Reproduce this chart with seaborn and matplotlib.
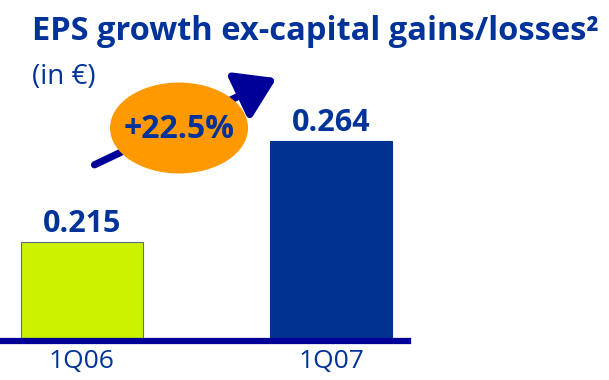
import matplotlib
matplotlib.use("Agg")
import matplotlib.pyplot as plt
from matplotlib.patches import Ellipse, FancyArrowPatch
import seaborn as sns
import pandas as pd

quarters = ["1Q06", "1Q07"]
eps = [0.215, 0.264]
bar_colors = ["#ccf200", "#003391"]
growth_label = "+22.5%"
title = "EPS growth ex-capital gains/losses²"
subtitle = "(in €)"

NAVY = "#003399"
DARK = "#000099"

sns.set_theme(style="white")
plt.rcParams["font.family"] = ["Open Sans", "DejaVu Sans"]

W, H = 609, 380
fig = plt.figure(figsize=(W / 100, H / 100), dpi=100)
ax = fig.add_axes([3 / W, (H - 341) / H, 405 / W, 341 / H])

df = pd.DataFrame({"quarter": quarters, "eps": eps})
sns.barplot(data=df, x="quarter", y="eps", hue="quarter", palette=bar_colors,
            width=0.49, legend=False, ax=ax, saturation=1)
for patch, col in zip(ax.patches, bar_colors):
    patch.set_edgecolor("#5a6e8c" if col == bar_colors[0] else col)
    patch.set_linewidth(0.8)

ax.set_ylim(0.167, 0.3325)
ax.set_xlim(-0.317, 1.309)
ax.set_xlabel("")
ax.set_ylabel("")
ax.set_yticks([])
for s in ["top", "left", "right"]:
    ax.spines[s].set_visible(False)
ax.spines["bottom"].set_color(DARK)
ax.spines["bottom"].set_linewidth(4.5)
ax.tick_params(axis="x", length=0, pad=6, labelsize=19, labelcolor=NAVY)

for i, v in enumerate(eps):
    ax.annotate(f"{v:.3f}", (i, v), xytext=(0, 2), textcoords="offset points",
                ha="center", va="bottom", fontsize=22, fontweight="bold",
                color=NAVY)

# growth arrow and badge, placed in pixel coordinates of the figure
def px(x, y):
    return (x / W, 1 - y / H)

arrow = FancyArrowPatch(px(92, 166), px(279, 77), transform=fig.transFigure,
                        arrowstyle="-|>,head_length=14,head_width=9",
                        mutation_scale=1.7, color=DARK, linewidth=5.2)
fig.add_artist(arrow)
ell = Ellipse(px(179, 128), 138 / W, 91 / H, transform=fig.transFigure,
              facecolor="#ff9900", edgecolor="none")
fig.add_artist(ell)
fig.text(*px(179, 129), growth_label, ha="center", va="center", fontsize=23,
         fontweight="bold", color=NAVY)

fig.text(*px(32, 40), title, ha="left", va="baseline", fontsize=23.5,
         fontweight="bold", color=NAVY)
fig.text(*px(32, 84), subtitle, ha="left", va="baseline", fontsize=20,
         color=NAVY)

fig.savefig("out.png", dpi=100)
